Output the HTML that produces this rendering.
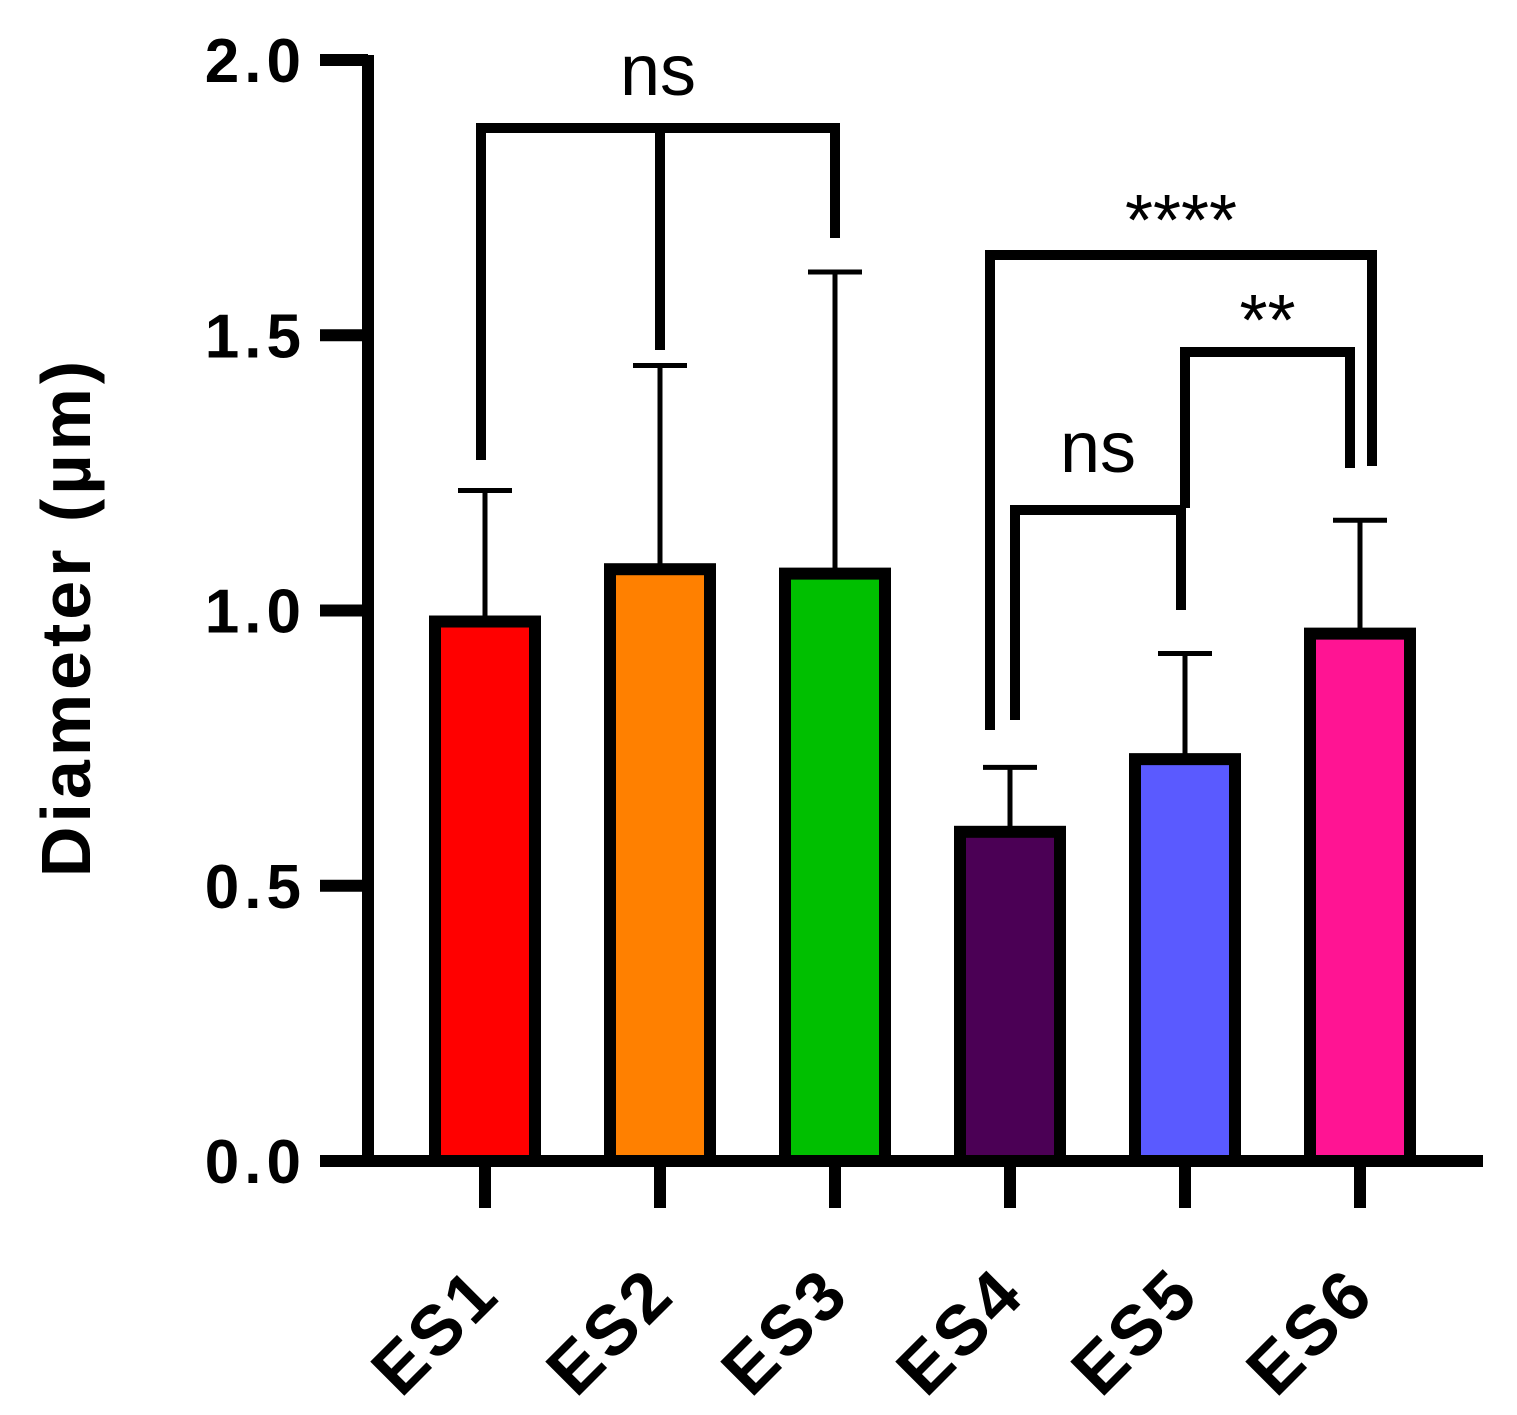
<!DOCTYPE html>
<html><head><meta charset="utf-8"><style>
html,body{margin:0;padding:0;background:#fff}
svg{display:block}
text{font-family:"Liberation Sans",Arial,sans-serif;font-weight:bold;fill:#000}
text.sig{font-weight:normal}
</style></head><body>
<svg id="chart" width="1517" height="1415" viewBox="0 0 1517 1415">
<g id="bars"></g>
<g id="axes"></g>
<g id="sig"></g>
</svg>
<script>
const categories=["ES1","ES2","ES3","ES4","ES5","ES6"];
const means=[0.98,1.075,1.067,0.598,0.73,0.958];
const errTops=[1.218,1.445,1.615,0.715,0.922,1.164];
const colors=["#ff0000","#ff8000","#00bf00","#4b0055","#5a5aff","#ff1493"];
const yTicks=[0,0.5,1.0,1.5,2.0];
const yTickLabels=["0.0","0.5","1.0","1.5","2.0"];
const NS="http://www.w3.org/2000/svg";
const y=v=>1161-v*550.5;
const x=i=>485+i*175;
function mk(tag,attrs,parent){const e=document.createElementNS(NS,tag);for(const k in attrs)e.setAttribute(k,attrs[k]);parent.appendChild(e);return e;}
const gb=document.getElementById('bars'),ga=document.getElementById('axes'),gs=document.getElementById('sig');
categories.forEach((c,i)=>{
  const cx=x(i);
  const eb=mk('line',{x1:cx,x2:cx,y1:y(means[i]),y2:y(errTops[i]),stroke:'#000','stroke-width':5},gb);
  
  
  const cap=mk('line',{x1:cx-27,x2:cx+27,y1:y(errTops[i]),y2:y(errTops[i]),stroke:'#000','stroke-width':5},gb);
  
  
  const r=mk('rect',{x:cx-50,y:y(means[i]),width:100,height:y(0)-y(means[i]),fill:colors[i],stroke:'#000','stroke-width':12},gb);
  
  
  const t=mk('line',{x1:cx,x2:cx,y1:1160,y2:1208,stroke:'#000','stroke-width':12},ga);
  
  
  const lb=mk('text',{x:cx+18,y:1297,'font-size':70,'letter-spacing':4,'text-anchor':'end',transform:`rotate(-45 ${cx+18} 1297)`},ga);
  lb.textContent=c;
  
  
});
const ax=mk('line',{x1:368,x2:368,y1:55,y2:1166,stroke:'#000','stroke-width':12},ga);


const xax=mk('line',{x1:320,x2:1483,y1:1161,y2:1161,stroke:'#000','stroke-width':12},ga);


yTicks.forEach((v,i)=>{
  const t=mk('line',{x1:320,x2:368,y1:y(v),y2:y(v),stroke:'#000','stroke-width':12},ga);
  
  
  const l=mk('text',{x:306,y:y(v)+22,'font-size':62,'letter-spacing':5,'text-anchor':'end'},ga);
  l.textContent=yTickLabels[i];
  
  
});
const yt=mk('text',{x:90,y:617,'font-size':70,'letter-spacing':4,'text-anchor':'middle',transform:'rotate(-90 90 617)'},ga);
yt.textContent='Diameter (µm)';


function bracket(name,x1,x2,yb,l1,l2,label,ly,mid){
  const p=mk('path',{d:`M${x1} ${l1} V${yb} H${x2} V${l2}`,fill:'none',stroke:'#000','stroke-width':10},gs);
  
  
  if(mid){const m=mk('line',{x1:mid[0],x2:mid[0],y1:yb,y2:mid[1],stroke:'#000','stroke-width':10},gs);
    
    }
  const t=mk('text',{x:(x1+x2)/2,y:ly,'font-size':72,'text-anchor':'middle','class':'sig'},gs);
  t.textContent=label;
  
  
}
bracket('sig-bracket-es1-es3',481,835,128,460,238,'ns',95,[660,350]);
bracket('sig-bracket-es4-es6',990,1372,255,730,466,'****',245);
bracket('sig-bracket-es4-es5',1015,1181,510,720,610,'ns',472);
bracket('sig-bracket-es5-es6',1185,1350,352,508,468,'**',345);
</script>
</body></html>
